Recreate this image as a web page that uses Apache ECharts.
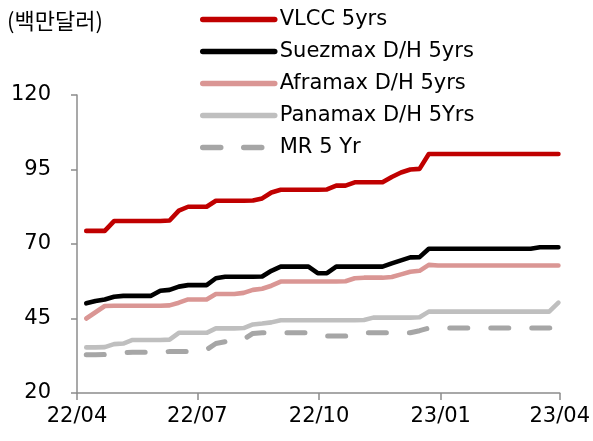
<!DOCTYPE html>
<html>
<head>
<meta charset="utf-8">
<script src="https://cdn.jsdelivr.net/npm/echarts@6/dist/echarts.min.js"></script>
<style>html,body{margin:0;padding:0;background:#fff;}#c{width:593px;height:441px;}</style>
</head>
<body>
<div id="c"></div>
<script>
const dates = ['2022-04-08','2022-04-15','2022-04-22','2022-04-29','2022-05-06','2022-05-13','2022-05-20','2022-05-27',
'2022-06-03','2022-06-10','2022-06-17','2022-06-24','2022-07-01','2022-07-08','2022-07-15','2022-07-22','2022-07-29',
'2022-08-05','2022-08-12','2022-08-19','2022-08-26','2022-09-02','2022-09-09','2022-09-16','2022-09-23','2022-09-30',
'2022-10-07','2022-10-14','2022-10-21','2022-10-28','2022-11-04','2022-11-11','2022-11-18','2022-11-25',
'2022-12-02','2022-12-09','2022-12-16','2022-12-23','2022-12-30','2023-01-06','2023-01-13','2023-01-20','2023-01-27',
'2023-02-03','2023-02-10','2023-02-17','2023-02-24','2023-03-03','2023-03-10','2023-03-17','2023-03-24','2023-03-31'];

const vlcc = [74.4,74.4,74.4,77.7,77.7,77.7,77.7,77.7,77.7,77.9,81.2,82.5,82.5,82.5,84.5,84.5,84.5,84.5,84.6,85.3,87.3,88.2,
88.2,88.2,88.2,88.2,88.3,89.6,89.6,90.7,90.7,90.7,90.7,92.5,94,95,95.2,100.2,
100.2,100.2,100.2,100.2,100.2,100.2,100.2,100.2,100.2,100.2,100.2,100.2,100.2,100.2];

const suezmax = [50.1,50.9,51.4,52.3,52.6,52.6,52.6,52.6,54.3,54.6,55.7,56.2,56.2,56.2,58.5,59,59,59,59,59.1,61,62.4,
62.4,62.4,62.4,60.2,60.2,62.4,62.4,62.4,62.4,62.4,62.4,63.5,64.5,65.5,65.6,68.4,
68.4,68.4,68.4,68.4,68.4,68.4,68.4,68.4,68.4,68.4,68.4,68.9,68.9,68.9];

const aframax = [45,47.1,49.2,49.3,49.3,49.3,49.3,49.3,49.3,49.4,50.3,51.4,51.4,51.4,53.2,53.2,53.2,53.6,54.6,55,56,57.4,
57.4,57.4,57.4,57.4,57.4,57.4,57.5,58.5,58.7,58.7,58.7,58.9,59.8,60.7,61,63,
62.8,62.8,62.8,62.8,62.8,62.8,62.8,62.8,62.8,62.8,62.8,62.8,62.8,62.8];

const panamax = [35.3,35.3,35.4,36.4,36.6,37.8,37.8,37.8,37.8,37.9,40.2,40.2,40.2,40.2,41.7,41.7,41.7,41.8,43,43.3,43.7,44.4,
44.4,44.4,44.4,44.4,44.4,44.4,44.4,44.4,44.5,45.3,45.3,45.3,45.3,45.3,45.4,47.3,
47.3,47.3,47.3,47.3,47.3,47.3,47.3,47.3,47.3,47.3,47.3,47.3,47.3,50.3];

const mr = [32.8,32.8,32.9,33.2,33.5,33.7,33.7,33.7,33.8,33.9,33.9,33.9,34,34.5,36.6,37.2,37.4,38,40,40.2,
40.2,40.2,40.2,40.2,40.2,39.6,39.1,39.1,39.1,39.6,40.2,40.2,40.2,40.2,40.2,40.2,40.9,41.8,
41.8,41.8,41.8,41.8,41.8,41.8,41.8,41.8,41.8,41.8,41.8,41.8,41.8,42.4];

const seriesNames = ['VLCC 5yrs','Suezmax D/H 5yrs','Aframax D/H 5yrs','Panamax D/H 5Yrs','MR 5 Yr'];
const tickDates = ['2022-04-01','2022-07-01','2022-10-01','2023-01-01','2023-04-01'];
const tickLabels = ['22/04','22/07','22/10','23/01','23/04'];
const yTicks = [20,45,70,95,120];

function ts(s){ const p = s.split('-').map(Number); return new Date(p[0], p[1]-1, p[2]).getTime(); }
const tickTs = tickDates.map(ts);

const colors = ['#C00000','#000000','#DA9694','#BFBFBF','#A6A6A6'];
const values = [vlcc, suezmax, aframax, panamax, mr];

const series = values.map((v, k) => ({
  name: seriesNames[k],
  type: 'line',
  data: dates.map((d, i) => [ts(d), v[i]]),
  showSymbol: false,
  symbol: 'none',
  smooth: false,
  z: 10 - k,
  lineStyle: k === 4
    ? {color: colors[k], width: 5, type: [18, 23], cap: 'round', join: 'round'}
    : {color: colors[k], width: 4.6, cap: 'round', join: 'round'},
  itemStyle: {color: colors[k]}
}));

const font = 'DejaVu Sans';
const chart = echarts.init(document.getElementById('c'), null, {renderer: 'canvas'});
chart.setOption({
  animation: false,
  backgroundColor: '#fff',
  graphic: [{
    type: 'text', left: 7, top: 10,
    style: {text: '(백만달러)', font: '22px "Noto Sans CJK KR"', fill: '#000'}
  }],
  legend: {
    data: seriesNames,
    orient: 'vertical',
    left: 200, top: 9, padding: 0,
    itemWidth: 72, itemHeight: 14, itemGap: 11,
    lineStyle: {width: 5.5},
    itemStyle: {opacity: 0},
    textStyle: {fontFamily: font, fontSize: 21, color: '#000'},
    selectedMode: false
  },
  grid: {left: 77, right: 33, top: 95, bottom: 48, containLabel: false},
  xAxis: {
    type: 'value',
    min: tickTs[0], max: tickTs[tickTs.length-1],
    axisLine: {show: true, lineStyle: {color: '#8c8c8c', width: 1.5}},
    axisTick: {show: true, length: 7, lineStyle: {color: '#8c8c8c', width: 1.5}, customValues: tickTs},
    axisLabel: {
      customValues: tickTs,
      fontFamily: font, fontSize: 21, color: '#000', margin: 13,
      formatter: function(v){ const i = tickTs.indexOf(v); return i >= 0 ? tickLabels[i] : ''; }
    },
    splitLine: {show: false}
  },
  yAxis: {
    type: 'value',
    min: yTicks[0], max: yTicks[yTicks.length-1], interval: 25,
    axisLine: {show: true, lineStyle: {color: '#8c8c8c', width: 1.5}},
    axisTick: {show: true, length: 6, lineStyle: {color: '#8c8c8c', width: 1.5}},
    axisLabel: {fontFamily: font, fontSize: 21, color: '#000', margin: 26},
    splitLine: {show: false}
  },
  series: series
});
</script>
</body>
</html>
